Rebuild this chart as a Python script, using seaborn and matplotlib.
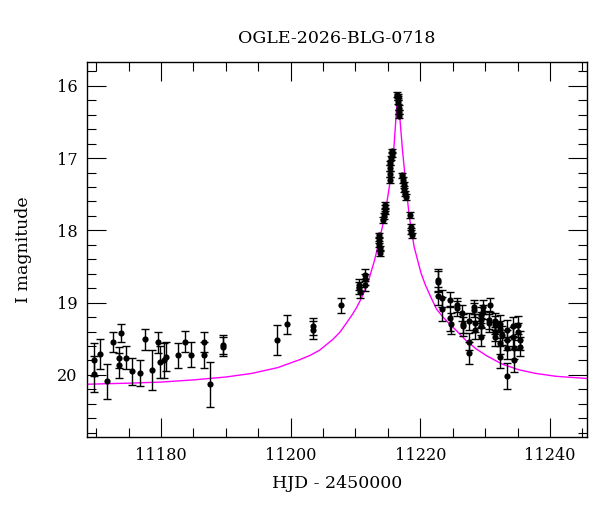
import matplotlib
matplotlib.use("Agg")
import matplotlib.pyplot as plt
import seaborn as sns
import numpy as np
import pandas as pd
from matplotlib.ticker import MultipleLocator

# ---- observed photometry (HJD-2450000, I mag, error) ----
hjd = [11169.7, 11169.7, 11170.65, 11171.7, 11172.65, 11173.9, 11173.6, 11173.6,
       11174.6, 11175.6, 11176.7, 11177.6, 11178.6, 11179.6, 11179.9, 11180.55,
       11180.8, 11182.6, 11183.7, 11184.7, 11186.6, 11186.6, 11187.6, 11189.6,
       11189.6,
       11197.9, 11199.5, 11203.5, 11203.5, 11207.7,
       11210.6, 11210.6, 11210.7, 11211.4, 11211.4, 11211.5,
       11213.6, 11213.65, 11213.7, 11213.75, 11213.8,
       11214.3, 11214.4, 11214.5, 11214.55, 11214.6,
       11215.25, 11215.3, 11215.3,
       11215.4, 11215.5, 11215.6, 11215.7,
       11216.45, 11216.5, 11216.55, 11216.6, 11216.65, 11216.7, 11216.75,
       11217.25, 11217.35, 11217.45, 11217.55, 11217.65, 11217.75,
       11218.4, 11218.6, 11218.6, 11218.65,
       11222.65, 11222.65, 11222.65, 11223.4, 11223.4, 11224.6, 11224.6, 11224.7,
       11225.6, 11225.6, 11226.5, 11226.6, 11226.6, 11227.5, 11227.5, 11227.55,
       11228.3, 11228.35, 11228.5, 11228.5, 11229.3, 11229.35, 11229.3, 11229.3,
       11229.65, 11229.65, 11230.7, 11230.65, 11230.65, 11231.5, 11231.5, 11231.5,
       11231.55, 11232.3, 11232.3, 11232.3, 11232.3, 11232.55, 11233.3, 11233.3,
       11233.35, 11233.35, 11234.3, 11234.3, 11234.45, 11234.5, 11235.1, 11235.1,
       11235.3, 11235.3]
imag = [19.79, 19.99, 19.71, 20.09, 19.55, 19.42, 19.76, 19.87,
        19.76, 19.95, 19.97, 19.51, 19.93, 19.55, 19.82, 19.80,
        19.75, 19.73, 19.54, 19.72, 19.55, 19.72, 20.13, 19.58,
        19.61,
        19.52, 19.30, 19.33, 19.38, 19.04,
        18.75, 18.80, 18.86, 18.62, 18.68, 18.76,
        18.07, 18.13, 18.19, 18.25, 18.31,
        17.86, 17.80, 17.74, 17.69, 17.65,
        17.30, 17.22, 17.14,
        17.07, 17.00, 16.95, 16.90,
        16.12, 16.14, 16.17, 16.22, 16.30, 16.36, 16.42,
        17.24, 17.30, 17.37, 17.43, 17.49, 17.54,
        17.79, 17.95, 18.01, 18.07,
        18.69, 18.71, 18.91, 18.94, 19.09, 18.96, 19.22, 19.29,
        19.03, 19.08, 19.15, 19.29, 19.33, 19.26, 19.54, 19.70,
        19.06, 19.10, 19.28, 19.38, 19.17, 19.24, 19.33, 19.47,
        19.06, 19.13, 19.03, 19.24, 19.28, 19.26, 19.31, 19.40,
        19.47, 19.29, 19.37, 19.56, 19.75, 19.45, 19.38, 19.52,
        19.63, 20.02, 19.33, 19.47, 19.63, 19.80, 19.31, 19.40,
        19.52, 19.61]
ierr = [0.23, 0.25, 0.21, 0.24, 0.14, 0.13, 0.15, 0.17,
        0.16, 0.19, 0.18, 0.15, 0.28, 0.15, 0.22, 0.24,
        0.20, 0.17, 0.15, 0.17, 0.14, 0.18, 0.31, 0.13,
        0.13,
        0.21, 0.13, 0.12, 0.12, 0.10,
        0.08, 0.08, 0.08, 0.08, 0.08, 0.08,
        0.04, 0.04, 0.04, 0.04, 0.04,
        0.04, 0.04, 0.04, 0.04, 0.04,
        0.04, 0.04, 0.04,
        0.03, 0.03, 0.03, 0.03,
        0.03, 0.03, 0.03, 0.03, 0.03, 0.03, 0.03,
        0.04, 0.04, 0.04, 0.04, 0.04, 0.04,
        0.04, 0.04, 0.04, 0.04,
        0.15, 0.15, 0.12, 0.12, 0.17, 0.10, 0.17, 0.15,
        0.10, 0.10, 0.11, 0.13, 0.13, 0.12, 0.12, 0.15,
        0.10, 0.10, 0.12, 0.12, 0.11, 0.11, 0.12, 0.13,
        0.10, 0.10, 0.10, 0.12, 0.12, 0.12, 0.12, 0.13,
        0.13, 0.12, 0.12, 0.15, 0.15, 0.13, 0.14, 0.14,
        0.15, 0.18, 0.13, 0.13, 0.15, 0.16, 0.12, 0.12,
        0.13, 0.13]

# ---- model light curve ----
model_t = [11168.6, 11175.0, 11180.0, 11185.0, 11190.0, 11194.0, 11198.0, 11201.4,
           11203.0, 11204.45, 11206.5, 11207.6, 11208.55, 11209.4, 11210.1, 11210.8,
           11211.4, 11212.2, 11212.95, 11213.7, 11214.5, 11215.3, 11215.9, 11216.2,
           11216.4, 11216.5, 11216.6, 11216.85, 11217.25, 11217.75, 11218.3, 11219.05,
           11220.1, 11220.8, 11221.6, 11222.5, 11223.4, 11224.45, 11225.7, 11227.0,
           11228.6, 11230.3, 11232.6, 11235.2, 11237.8, 11240.9, 11245.7]
model_m = [20.13, 20.115, 20.10, 20.07, 20.03, 19.98, 19.90, 19.79,
           19.73, 19.66, 19.51, 19.41, 19.29, 19.18, 19.08, 18.96,
           18.84, 18.64, 18.41, 18.13, 17.81, 17.35, 16.89, 16.50,
           16.22, 16.13, 16.22, 16.45, 16.89, 17.35, 17.81, 18.23,
           18.59, 18.76, 18.92, 19.09, 19.19, 19.29, 19.40, 19.52,
           19.64, 19.74, 19.85, 19.93, 19.98, 20.02, 20.05]

title_text = "OGLE-2026-BLG-0718"
xlabel_text = "HJD - 2450000"
ylabel_text = "I magnitude"

sns.set_theme(style="white")
plt.rcParams["font.family"] = ["DejaVu Serif"]

data = pd.DataFrame({"t": hjd, "m": imag, "e": ierr})
model = pd.DataFrame({"t": model_t, "m": model_m})

fig = plt.figure(figsize=(6, 5.12), dpi=100)
ax = fig.add_axes([0.145, 0.1465, 0.8333, 0.7324])

sns.lineplot(data=model, x="t", y="m", ax=ax, color="#ff00ff", lw=1.0,
             sort=True, zorder=2)
ax.errorbar(data["t"], data["m"], yerr=data["e"], fmt="none", ecolor="black",
            elinewidth=1.0, capsize=2.6, capthick=1.0, zorder=3)
sns.scatterplot(data=data, x="t", y="m", ax=ax, color="black", s=20,
                edgecolor="black", linewidth=0, zorder=4)

ax.set_xlim(11168.6, 11245.7)
ax.set_ylim(20.86, 15.67)
ax.xaxis.set_major_locator(MultipleLocator(20))
ax.xaxis.set_minor_locator(MultipleLocator(5))
ax.yaxis.set_major_locator(MultipleLocator(1))
ax.yaxis.set_minor_locator(MultipleLocator(0.2))
ax.tick_params(which="both", direction="in", top=True, right=True,
               bottom=True, left=True, color="black", width=0.8,
               labelsize=11.6, labelcolor="black")
ax.tick_params(which="major", length=13.5, pad=7)
ax.tick_params(which="minor", length=6.7)
for sp in ax.spines.values():
    sp.set_color("black")
    sp.set_linewidth(1.0)

ax.set_title(title_text, fontsize=12.5, pad=14, color="black")
ax.set_xlabel(xlabel_text, fontsize=12.5, labelpad=8, color="black")
ax.set_ylabel(ylabel_text, fontsize=12.5, labelpad=18, color="black")

fig.savefig("out.png", dpi=100, facecolor="white")
